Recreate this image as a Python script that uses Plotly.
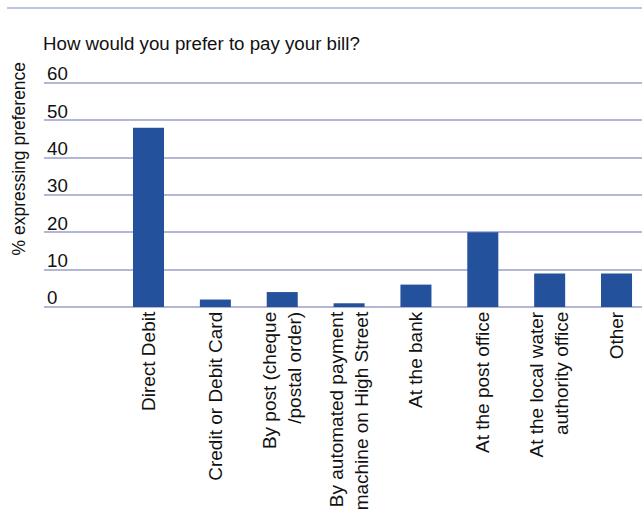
import plotly.graph_objects as go

# Survey: preferred bill payment method
categories = [
    "Direct Debit",
    "Credit or Debit Card",
    "By post (cheque<br>/postal order)",
    "By automated payment<br>machine on High Street",
    "At the bank",
    "At the post office",
    "At the local water<br>authority office",
    "Other",
]
values = [48, 2, 4, 1, 6, 20, 9, 9]
y_ticks = [0, 10, 20, 30, 40, 50, 60]

BAR = "#23519B"
GRID = "#B3B6D7"
TEXT = "#111111"
FONT = "Liberation Sans, Arial, sans-serif"

W, H = 642, 526
L, R, T, B = 44, 0, 58, 219
plot_w = W - L - R
plot_h = H - T - B
px_per_unit = 224 / 60  # 0 -> 60 spans 224 px
base_y = H - B  # pixel row of the zero line


def paper_y(py):
    return (base_y - py) / plot_h


fig = go.Figure(
    go.Bar(
        x=list(range(len(categories))),
        y=values,
        width=0.464,
        marker=dict(color=BAR, line=dict(width=0)),
        hoverinfo="skip",
    )
)

fig.update_layout(
    width=W,
    height=H,
    margin=dict(l=L, r=R, t=T, b=B, autoexpand=False),
    paper_bgcolor="white",
    plot_bgcolor="white",
    showlegend=False,
    font=dict(family=FONT, size=18.5, color=TEXT),
    title=dict(
        text="How would you prefer to pay your bill?",
        x=43 / W,
        xref="container",
        xanchor="left",
        y=1 - 43 / H,
        yref="container",
        yanchor="middle",
        font=dict(family=FONT, size=18.7, color=TEXT),
    ),
    xaxis=dict(
        tickmode="array",
        tickvals=list(range(len(categories))),
        ticktext=categories,
        tickangle=-90,
        range=[-1.563, 7.381],
        showgrid=False,
        zeroline=False,
        showline=False,
        ticks="",
        automargin=False,
        tickfont=dict(family=FONT, size=19, color=TEXT),
    ),
    yaxis=dict(
        range=[0, plot_h / px_per_unit],
        tickmode="array",
        tickvals=y_ticks,
        ticklabelposition="inside top",
        ticklabeloverflow="allow",
        ticklabelshift=4,
        showgrid=True,
        gridcolor=GRID,
        gridwidth=1.6,
        zeroline=True,
        zerolinecolor=GRID,
        zerolinewidth=1.6,
        showline=False,
        ticks="",
        automargin=False,
        tickfont=dict(family=FONT, size=18.7, color=TEXT),
    ),
    shapes=[
        dict(
            type="line",
            xref="paper",
            yref="paper",
            x0=(7 - L) / plot_w,
            x1=1.0,
            y0=paper_y(8),
            y1=paper_y(8),
            line=dict(color="#A9B0DA", width=1.6),
        )
    ],
    annotations=[
        dict(
            text="% expressing preference",
            xref="paper",
            yref="paper",
            x=(18.5 - L) / plot_w,
            y=paper_y(159),
            xanchor="center",
            yanchor="middle",
            textangle=-90,
            showarrow=False,
            font=dict(family=FONT, size=17.5, color=TEXT),
        )
    ],
)

fig.write_html("out.html")
